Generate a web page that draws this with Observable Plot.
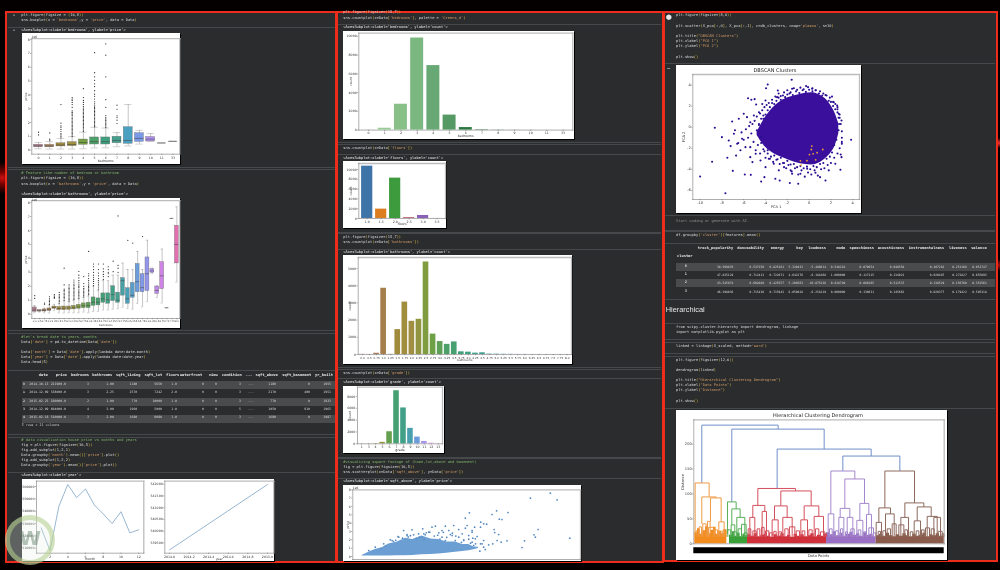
<!DOCTYPE html>
<html><head><meta charset="utf-8">
<script src="https://cdn.jsdelivr.net/npm/d3@7"></script>
<script src="https://cdn.jsdelivr.net/npm/@observablehq/plot@0.6"></script>
<style>
html,body{margin:0;padding:0;background:#000;width:1000px;height:570px;overflow:hidden}
#page{position:absolute;left:0;top:0;width:1000px;height:570px;overflow:hidden;filter:blur(.35px);
 background:radial-gradient(circle at 2px 178px,#d01010 0,#700 6px,transparent 16px),radial-gradient(circle at 999px 143px,#f33 0,transparent 5px),radial-gradient(circle at 999px 265px,#a11 0,transparent 6px),#040000}
.panel{position:absolute;background:#2a2c2e;border:2px solid #ee2c1c;box-sizing:border-box}
.t{position:absolute;white-space:pre;line-height:1}
.sep{position:absolute;height:1px;background:#46494c}
.band{position:absolute;height:8px;background:#4a4b4c}
</style></head><body><div id="page"></div>
<script>
// ---------- data: boxplot by bedrooms ----------
const bedCats=["0","1","2","3","4","5","6","7","8","9","10","11","33"];
const bedQ1=[.22,.22,.27,.29,.39,.41,.41,.50,.46,.60,.63,.52,.64];
const bedMed=[.30,.30,.37,.41,.55,.62,.62,.70,.70,.85,.80,.52,.64];
const bedQ3=[.39,.38,.50,.58,.77,.92,.92,.97,1.66,1.23,.95,.52,.64];
const bedLo=[.10,.08,.08,.08,.10,.16,.17,.25,.31,.44,.63,.52,.64];
const bedHi=[.55,.62,.85,.98,1.3,1.65,1.6,1.27,3.3,1.43,1.2,.52,.64];
const bedOut=[[1.1,1.3],[.72,.8,1.25],[.9,1.0,1.1,1.2,1.35,1.5,1.65,1.75,1.95,3.3],
[1.0,1.1,1.2,1.3,1.4,1.5,1.6,1.7,1.8,1.9,2.0,2.1,2.2,2.3,2.4,2.5,2.6,2.7,2.75,2.85,3.1,3.3,3.45,3.6,3.7,3.8],
[1.35,1.45,1.55,1.65,1.75,1.85,1.95,2.05,2.15,2.25,2.35,2.45,2.55,2.65,2.75,2.85,2.95,3.05,3.15,3.3,3.45,3.6,3.8,4.45],
[1.7,1.8,1.9,2.0,2.1,2.2,2.3,2.4,2.5,2.6,2.7,2.8,2.9,3.0,3.1,3.2,3.35,3.5,3.7,3.9,4.05,4.3,4.6,4.8,5.05,5.3,5.6,7.05],
[1.65,1.75,1.85,1.95,2.05,2.15,2.25,2.35,2.5,3.1,3.65,5.3,6.87,7.69],
[1.93,2.17,2.36,2.48,2.96,3.25],[],[],[],[],[]];
// ---------- data: boxplot by bathrooms ----------
const bathCats=["0.0","0.5","0.75","1.0","1.25","1.5","1.75","2.0","2.25","2.5","2.75","3.0","3.25","3.5","3.75","4.0","4.25","4.5","4.75","5.0","5.25","5.5","5.75","6.0","6.25","6.5","6.75","7.5","7.75","8.0"];
const bathQ1=[.17,.19,.19,.24,.39,.29,.29,.31,.34,.39,.43,.43,.6,.63,.82,.75,.94,.82,1.33,.75,1.18,1.57,1.57,1.66,2.96,1.45,1.8,.46,6.87,3.64];
const bathMed=[.29,.24,.26,.32,.47,.40,.42,.44,.47,.52,.60,.62,.85,.85,1.1,1.03,1.4,1.0,2.4,1.1,1.35,2.33,1.9,2.9,3.1,1.7,2.75,.46,6.87,5.0];
const bathQ3=[.48,.29,.34,.41,.55,.51,.55,.55,.60,.67,.77,.82,1.2,1.13,1.49,1.49,2.0,1.54,2.58,1.86,2.24,3.6,2.87,4.07,3.23,1.98,3.73,.46,6.87,6.34];
const bathLo=[.1,.15,.1,.08,.25,.1,.08,.1,.1,.1,.15,.1,.2,.2,.3,.3,.35,.4,.5,.4,.35,.77,.53,.9,2.9,1.2,.8,.46,6.87,2.3];
const bathHi=[.62,.3,.42,.65,.7,.75,.95,.9,1.0,1.1,1.2,1.3,2.0,1.7,2.4,2.4,2.8,2.8,3.66,3.2,3.2,4.5,3.2,5.3,3.3,2.05,4.67,.46,6.87,7.7];
const bathOut=[[1.13,1.33],[],[.72,.8],[.7,.8,.9,1.0,1.1,1.25],[1.15,1.2,1.3,1.4],[.8,.9,1,1.1,1.2,1.3,1.4,1.55],
[1.0,1.1,1.2,1.3,1.4,1.5,1.6,1.7,1.8,2.1,3.3],[.95,1.05,1.15,1.25,1.35,1.45,1.55,1.65,1.75,1.85,1.95,2.1],
[1.05,1.15,1.25,1.35,1.45,1.55,1.65,1.75,1.85,1.95,2.05,2.15,2.3,2.45],[1.15,1.25,1.35,1.45,1.55,1.65,1.75,1.9,2.0,2.1,2.25,2.4,2.6,2.8,3.06],
[1.25,1.35,1.45,1.55,1.65,1.75,1.85,2.0,2.2,2.7],[1.4,1.5,1.6,1.7,1.8,1.9,2.0,2.1,2.25,2.4,2.55,2.75,2.9,4.5],
[2.05,2.2,2.35,2.5,2.65,2.8,3.0,3.2,3.4,3.6],[1.8,1.95,2.1,2.25,2.4,2.55,2.75,2.95,3.2,3.6],[2.5,2.7,2.85,3.05,3.25,3.6],
[2.7,2.9,3.0,3.2,3.4],[3.05,3.8],[3.0,3.3,3.5,7.05],[],[5.3],[5.1],[],[5.57],[],[],[],[],[],[],[]];
// ---------- data: line plots ----------
const months=[1,2,3,4,5,6,7,8,9,10,11,12];
const monthPrice=[526500,508000,544000,561600,551000,558000,545000,537700,530000,539600,522400,525000];
const years=[2014,2015];
const yearPrice=[539200,541986];
// ---------- data: count plots ----------
const bedCount=[13,199,2760,9824,6882,1601,272,38,13,6,3,1,1];
const greens=["#a4d4a4","#98cc98","#88c088","#7ab880","#68a874","#559a64","#2e7a44","#2a7040","#256838","#206030","#1c582c","#185028","#144824"];
const floorCats=["1.0","1.5","2.0","2.5","3.0","3.5"];
const floorCount=[10680,1910,8241,161,613,8];
const floorColors=["#3f74a8","#dc7e20","#3d9a3d","#b8505a","#8a60b8","#8c564b"];
const bathCount=[10,4,72,3852,9,1446,3048,1930,2047,5380,1185,753,589,731,155,136,79,100,23,21,13,10,4,6,2,2,2,1,1,2];
const gradeCats=["1","3","4","5","6","7","8","9","10","11","12","13"];
const gradeCount=[1,3,29,242,2038,8981,6068,2615,1134,399,90,13];
// ---------- data: sqft_above vs price ----------
const denseSqft=[265,560,850,1150,1440,1800,2180,2500,2910,3300,3650,4000,4380,4700,4970,5200,5400];
const denseHigh=[.12,.5,.85,1.05,1.5,1.7,2.2,2.05,2.45,2.1,2.05,1.75,1.75,1.45,1.45,1.15,1.1];
const denseLow=[.05,.05,.05,.05,.05,.08,.1,.12,.2,.25,.3,.4,.5,.6,.7,.8,.95];
const aboveSqft=[7690,8570,8870,5000,4820,6000,6200,6700,6320,6440,5500,5760,6090,6120,6290,6220,6400,6660,7430,7320,7850,7910,8030,9430,5850,6030,5460,5700,5560,5630,5230,5120,4900,4310,3940,3500,3350,2940,2470,2100,1850,1510,2250,2760,3210,3790,4160,4530,4750,4970,5270,5340,1300,1650,2050,2400,2800,3100,3600,4000,4400,4650,5050,5150,1100,1750,2300,2650,3050,3450,3850,4250,3000,3700,2990,3250,3650,4090,4530,4820,5120,5490,5630,1880,1590,2250,2540,2910,3790,4240,4680,4970,5260,4380,4750,5120,5490,5630,5190,3940,1220,850,560];
const abovePrice=[7.0,7.6,6.8,5.24,4.6,5.04,5.48,5.28,4.48,4.44,4.12,3.88,3.24,2.88,2.64,1.92,1.72,1.88,1.88,1.08,2.6,2.32,3.24,2.2,1.4,1.52,.64,.84,1.52,1.92,3.52,2.92,3.72,3.72,3.64,3.64,3.52,3.32,3.2,3.12,2.4,2.0,2.64,2.72,2.92,3.12,2.64,2.32,2.0,2.08,1.52,2.4,1.25,1.8,2.2,2.5,2.3,2.85,2.55,2.3,2.45,1.7,1.6,2.2,.95,1.95,2.35,2.15,2.6,2.45,2.9,2.8,2.05,2.1,2.72,2.92,2.84,3.12,3.24,3.4,3.12,3.52,3.92,2.32,1.92,2.52,2.6,2.32,2.32,2.52,2.72,2.52,2.12,1.92,1.92,1.72,1.52,1.12,1.32,1.92,1.52,1.12,.72];
// ---------- data: DBSCAN ----------
const cloudX=[-4.77,-4.0,-3.09,-2.17,-1.25,-.34,.58,1.5,2.26,2.72];
const cloudTop=[-.47,.95,2.06,2.69,3.0,3.23,3.23,2.69,1.58,.32];
const cloudBottom=[-.79,-1.9,-2.6,-3.0,-3.35,-3.54,-3.54,-3.0,-2.06,-.63];
const pcaX=[-10,-7.68,-8.65,-8.9,-8,-7.5,-7,-5.9,-5.35,-4.4,-4.1,-3.1,-2.7,-1.77,-1,-1.56,.58,1.5,1,2.87,3.85,-1.6,-3.8,-3.95,-2.87,-.28,.28,-1.56,-5.6,-5.3,-5,-4.86,-4.3,-4,-2.94,2.1,2.57,-7.06,-6.45,-6,-5.7,-5.4,-5.07,-4.6,-6.9,-7.37,-7.2,-6.6,-6.15,-6.3,-5.84,-6.7,-5.4,-4.9,-5.2,-4.46,-4,-3.7,-3.24,-2.78,-2.3,-1.7,-.8,-.18,1.8,2.4,2.97,3,2.97,2.72,2.26,
-6.8,-6.5,-6.2,-6,-5.8,-5.6,-5.5,-5.4,-5.3,-5.2,-5.1,-5,-4.9,-4.8,-4.8,-4.7,-4.6,-4.5,-4.5,-4.4,-4.3,-4.2,-4.2,-4.1,-4,-3.9,-3.8,-3.7,
-3.4,-3.1,-2.8,-2.6,-2.3,-2,-1.8,-1.4,-1.1,-.8,-.5,-.1,.3,.6,1,1.3,1.6,1.9,2.2,2.4,2.6,2.8,
-3.6,-3.3,-3,-2.7,-2.4,-2.1,-1.9,-1.6,-1.3,-1,-.7,-.4,-.1,.2,.5,.8,1.1,1.4,1.7,2,2.3,2.6,2.8,3,
2.9,3,3,2.9,2.8,2.6,
-4.6,-4.4,-4.2,-4,-3.8,-3.6,-3.4,-3.2,-3,-2.8,-2.6,-2.4,-2.2,-2,-1.7,-1.5,-1.2,-.9,-.6,-.3,0,.3,.6,.9,1.2,1.5,1.8,2,2.2,2.4,2.6,2.7,2.75,2.7,2.5,2.3,2.1,1.9,1.6,1.3,1,.7,.4,.1,-.2,-.5,-.8,-1.1,-1.4,-1.7,-2,-2.3,-2.6,-2.9,-3.2,-3.5,-3.8,-4.1,-4.4];
const pcaY=[-4.68,-6.27,-.06,-3.29,-.95,-2.9,-4.15,-4.5,-4.53,-5.16,-4.75,-4.9,-5.06,-5.3,-5.38,-4.43,-4.33,-5.06,-4.75,-4.05,-1.2,4.5,4.05,3.7,3.48,3.9,3.64,3.64,2.75,2.6,2.66,2.15,2.2,2.53,2.85,2.9,2.06,.54,.8,1.27,.95,.47,1.1,1.42,-.63,-1.27,-1.8,-1.58,-1.1,-2.2,-1.9,-2.7,-2.85,-2.53,-3.32,-3.16,-3.8,-3,-3.48,-4.1,-3.8,-4.1,-4.43,-3.95,-4.1,-3.48,-2.85,-1.58,.63,1.27,2.37,
-.3,-1.5,-.5,-1.2,-.2,-1,.1,-1.9,-.6,.3,-1.4,.6,-2.2,-.3,1,-1.7,.2,-2.5,1.3,-.9,1.6,-2.1,.8,1.9,-2.9,2.1,-2.5,2.3,
2.6,2.9,3.2,2.95,3.3,3.5,3.2,3.7,3.55,3.75,3.6,3.8,3.7,3.5,3.4,3.2,3.0,2.8,2.4,2.2,1.7,1.2,
-3,-3.3,-3.1,-3.5,-3.4,-3.9,-3.6,-4.2,-3.9,-4.5,-4.1,-4.7,-4.3,-4.5,-4.1,-4.6,-4,-3.9,-3.6,-3.4,-2.9,-2.5,-2,-1,
.3,-.4,-1.4,-2.6,.9,1.9,
.3,.8,1.1,1.2,1.6,1.9,2.3,2.2,2.5,2.8,2.6,3,2.85,3.1,3.3,3.05,3.4,3.25,3.5,3.35,3.55,3.4,3.5,3.2,3,3.05,2.5,2.4,2,1.7,1.4,.9,.3,-.3,-1.2,-1.7,-2.4,-2.8,-3,-3.4,-3.5,-3.8,-3.7,-4,-3.75,-3.9,-3.7,-3.8,-3.5,-3.55,-3.2,-3.4,-2.9,-3.05,-2.7,-2.8,-2.2,-2.3,-1.5];
const noiseX=[.25,.2,.37,.03,.73,1.25,-.2,.6,-.8,-.75];
const noiseY=[-1.8,-2.12,-2.53,-2.6,-2.42,-2.12,-3.18,-3.1,-3.2,-3.6];
// ---------- data: dendrogram (left x, right x, height, left leg end, right leg end) ----------
const linkBlue=[[109,338,238,122,230],[199,476,230,84,190],[335,617,190,111,176],[532,703,176,146,146]];
const linkOrange=[[89,131,122,20,94],[109,152,94,40,92],[135,167,92,45,44],[92,98,26,14,14],[101,108,34,14,14],[112,122,40,14,14],[126,134,45,14,14],[129,145,33,14,14],[148,156,28,14,14],[160,176,44,14,14],[163,170,25,14,14],[173,182,28,14,14]];
const linkGreen=[[186,212,84,20,70],[199,224,70,38,53],[187,196,28,14,14],[197,208,38,14,14],[203,214,24,14,14],[214,238,53,14,14],[218,228,30,14,14],[228,242,39,14,14],[236,245,22,14,14]];
const linkRed=[[277,390,111,77,106],[346,437,106,76,76],[262,298,77,53,65],[327,365,76,48,53],[416,460,76,48,55],[248,256,30,14,14],[253,268,53,14,14],[262,272,26,14,14],[275,283,30,14,14],[290,303,65,14,14],[288,296,33,14,14],[300,310,26,14,14],[312,320,22,14,14],[320,338,48,14,14],[325,332,25,14,14],[340,348,24,14,14],[352,380,53,14,14],[358,368,30,14,14],[372,388,34,14,14],[392,402,26,14,14],[406,426,48,14,14],[410,418,26,14,14],[430,440,28,14,14],[446,474,55,14,14],[450,460,30,14,14],[465,478,24,14,14],[478,483,20,14,14]];
const linkPurple=[[496,568,146,60,130],[538,597,130,71,81],[524,553,71,53,53],[583,610,81,47,59],[488,505,60,14,14],[492,500,30,14,14],[510,518,26,14,14],[520,535,53,14,14],[525,532,30,14,14],[540,546,24,14,14],[545,562,53,14,14],[556,566,30,14,14],[574,592,47,14,14],[578,586,28,14,14],[594,602,24,14,14],[603,618,59,14,14],[610,624,32,14,14],[624,631,22,14,14]];
const linkBrown=[[658,747,146,72,82],[640,675,72,43,60],[718,775,82,53,74],[755,797,74,46,55],[632,648,43,14,14],[638,645,25,14,14],[652,660,26,14,14],[660,686,60,14,14],[665,675,30,14,14],[680,692,40,14,14],[700,715,38,14,14],[706,729,53,14,14],[718,726,28,14,14],[734,742,24,14,14],[746,765,46,14,14],[752,760,26,14,14],[768,776,28,14,14],[780,792,32,14,14],[785,815,55,14,14],[797,806,30,14,14],[805,825,53,14,14],[818,830,25,14,14],[830,835,20,14,14]];
const baseX=[88,96,104,112,120,128,136,144,152,160,168,176,184,192,200,208,216,224,232,240,246,256,266,276,286,296,306,316,326,336,346,356,366,376,386,396,406,416,426,436,446,456,466,476,483,493,503,513,523,533,543,553,563,573,583,593,603,613,623,632,642,652,662,672,682,692,702,712,722,732,742,752,762,772,782,792,802,812,822,836];
const baseH=[22,30,19,26,34,20,27,33,19,25,20,28,18,17,24,15,21,14,19,16,18,15,20,14,17,19,15,13,18,15,20,14,17,13,19,15,18,14,16,20,14,17,15,19,22,18,24,16,21,15,19,23,17,20,15,22,17,19,14,16,19,15,21,16,14,18,15,20,16,14,19,15,17,21,14,18,16,20,15,15];
const baseCluster=["o","o","o","o","o","o","o","o","o","o","o","o","o","g","g","g","g","g","g","g","r","r","r","r","r","r","r","r","r","r","r","r","r","r","r","r","r","r","r","r","r","r","r","r","p","p","p","p","p","p","p","p","p","p","p","p","p","p","p","b","b","b","b","b","b","b","b","b","b","b","b","b","b","b","b","b","b","b","b","b"];
// ---------- data: tables ----------
const headCols=["date","price","bedrooms","bathrooms","sqft_living","sqft_lot","floors","waterfront","view","condition","...","sqft_above","sqft_basement","yr_built"];
const headRows=[
["0","2014-10-13","221900.0","3","1.00","1180","5650","1.0","0","0","3","...","1180","0","1955"],
["1","2014-12-09","538000.0","3","2.25","2570","7242","2.0","0","0","3","...","2170","400","1951"],
["2","2015-02-25","180000.0","2","1.00","770","10000","1.0","0","0","3","...","770","0","1933"],
["3","2014-12-09","604000.0","4","3.00","1960","5000","1.0","0","0","5","...","1050","910","1965"],
["4","2015-02-18","510000.0","3","2.00","1680","8080","1.0","0","0","3","...","1680","0","1987"]];
const clusterCols=["track_popularity","danceability","energy","key","loudness","mode","speechiness","acousticness","instrumentalness","liveness","valence"];
const clusterRows=[
["0","30.599870","0.537250","0.825161","5.320433","-5.480614","0.548218","0.079654","0.048558","0.207282","0.251168","0.051747"],
["1","47.835129","0.712413","0.722071","4.642276","-6.181868","1.000000","0.117315","0.134022","0.020497","0.272827","0.655095"],
["2","43.545974","0.602889","0.425557","5.208563","-10.075236","0.628789","0.086265","0.512537","0.138529","0.156760","0.352561"],
["3","46.398036","0.715430","0.715943","6.059028","-6.251819","0.000000","0.130631","0.145663","0.020377","0.179422","0.595318"]];

// ---------- page helpers ----------
const page=document.getElementById("page");
function el(cls,css,html){const d=document.createElement("div");d.className=cls;Object.assign(d.style,css);if(html!==undefined)d.innerHTML=html;page.appendChild(d);return d;}
function txt(x,y,s,o={}){const a=o.anchor==="end"?"-100%":o.anchor==="middle"?"-50%":"0";
 const d=el("t",{left:x+"px",top:y+"px",fontSize:(o.size||3.7)+"px",color:o.color||"#d8d8d8",fontFamily:o.font||"'DejaVu Sans Mono'",fontWeight:o.weight||"normal",transform:`translate(${a},-50%)`+(o.rotate?` rotate(${o.rotate}deg)`:"")});d.textContent=s;return d;}
function esc(s){return s.replace(/&/g,"&amp;").replace(/</g,"&lt;").replace(/>/g,"&gt;");}
function code(x,y,s){let h;
 if(s.startsWith("#"))h=`<span style="color:#7fb069">${esc(s)}</span>`;
 else if(s.startsWith("<Axes"))h=`<span style="color:#e8e8e8">${esc(s)}</span>`;
 else h=s.split(/('[^']*'|"[^"]*")/).map(p=>/^['"]/.test(p)?`<span style="color:#d19a66">${esc(p)}</span>`:esc(p).replace(/([()\[\]])/g,'<span style="color:#e2c34a">$1</span>')).join("");
 el("t",{left:x+"px",top:y+"px",fontSize:"3.7px",color:"#d8d8d8",fontFamily:"'DejaVu Sans Mono'",transform:"translateY(-50%)"},h);}
function sep(x1,x2,y){el("sep",{left:x1+"px",top:y+"px",width:(x2-x1)+"px"});}
// red-framed panels
el("panel",{left:"5px",top:"11px",width:"332px",height:"552px"});
el("panel",{left:"335.5px",top:"11px",width:"328px",height:"552px"});
el("panel",{left:"663px",top:"11px",width:"334.5px",height:"551px"});

// ---------- chart helpers ----------
const stops=["#b0788a","#a87a50","#a08a3c","#a09040","#74a040","#4ca068","#3ea07e","#45a090","#4aa0c0","#7a9ae8","#b090f0","#d880e0","#e070b0"];
const ramp=d3.piecewise(d3.interpolateRgb,stops);
const pal=n=>d3.range(n).map(i=>ramp(i/(n-1)));
const plain=d=>String(d);
function fig(b,opts){return page.appendChild(Plot.plot({width:b.r-b.l,height:b.b-b.t,marginLeft:b.fl-b.l,marginRight:b.r-b.fr,marginTop:b.ft-b.t,marginBottom:b.b-b.fb,
 style:{position:"absolute",left:b.l+"px",top:b.t+"px",background:"#fff",fontFamily:"'DejaVu Sans'",fontSize:"3.4px",overflow:"visible",boxShadow:"1px 1px 0 #000",color:"#333"},...opts}));}
const frame=()=>[Plot.frame({anchor:"top",stroke:"#bcbcbc",strokeWidth:1.3}),Plot.frame({anchor:"right",stroke:"#bcbcbc",strokeWidth:1.3}),Plot.frame({anchor:"left",stroke:"#777",strokeWidth:.6}),Plot.frame({anchor:"bottom",stroke:"#777",strokeWidth:.6})];
const ax=(o={})=>Plot.axisX({tickSize:1.3,tickPadding:.8,fontSize:o.fs||3.2,labelAnchor:"center",labelArrow:"none",labelOffset:o.off||7,label:o.label??null,...(o.ticks?{ticks:o.ticks}:{}),...(o.fmt?{tickFormat:o.fmt}:{}),stroke:"#666",strokeWidth:.5});
const ay=(o={})=>Plot.axisY({tickSize:1.3,tickPadding:.8,fontSize:o.fs||3.2,labelAnchor:"center",labelArrow:"none",labelOffset:o.off||8,label:o.label??null,...(o.ticks?{ticks:o.ticks}:{}),...(o.fmt?{tickFormat:o.fmt}:{}),stroke:"#666",strokeWidth:.5});
function boxes(cats,q1,med,q3,lo,hi,out,colors,b,domainY,label,fs){
 const rows=cats.map((c,i)=>({c,q1:q1[i],med:med[i],q3:q3[i],lo:lo[i],hi:hi[i],col:colors[i]}));
 const pts=cats.flatMap((c,i)=>out[i].map(v=>({c,v})));
 return fig(b,{x:{type:"band",domain:cats,padding:.2,round:false},y:{domain:domainY},marks:[
  ...frame(),ax({label,fs,off:8}),ay({label:"price",ticks:[0,1,2,3,4,5,6,7,8],fmt:plain,off:7}),
  Plot.ruleX(rows,{x:"c",y1:"lo",y2:"hi",stroke:"#8a8a8a",strokeWidth:.5}),
  Plot.tickY(rows,{x:"c",y:"hi",stroke:"#8a8a8a",strokeWidth:.4,insetLeft:.8,insetRight:.8}),
  Plot.tickY(rows,{x:"c",y:"lo",stroke:"#8a8a8a",strokeWidth:.4,insetLeft:.8,insetRight:.8}),
  Plot.barY(rows,{x:"c",y1:"q1",y2:"q3",fill:"col",stroke:"#666",strokeWidth:.35}),
  Plot.tickY(rows,{x:"c",y:"med",stroke:"#444",strokeWidth:.55}),
  Plot.dot(pts,{x:"c",y:"v",r:.6,fill:"#222",stroke:"none"})]});
}
function counts(cats,vals,colors,b,domainY,ticks,label,fs){
 const rows=cats.map((c,i)=>({c,v:vals[i],col:colors[i]}));
 return fig(b,{x:{type:"band",domain:cats,padding:.2,round:false},y:{domain:domainY},marks:[
  ...frame(),ax({label,fs,off:7}),ay({label:"count",ticks,fmt:plain,off:9}),
  Plot.barY(rows,{x:"c",y:"v",fill:"col"})]});
}

// ---------- panel 1 ----------
[[21.3,15.7,"plt.figure(figsize = (16,8))"],[21.3,21,"sns.boxplot(x = 'bedrooms',y = 'price', data = Data)"],[21.3,30.7,"<AxesSubplot:xlabel='bedrooms', ylabel='price'>"],
[21.3,174.3,"# Feature Like number of bedroom or bathroom"],[21.3,179.3,"plt.figure(figsize = (16,8))"],[21.3,185,"sns.boxplot(x = 'bathrooms',y = 'price', data = Data)"],[21.3,195,"<AxesSubplot:xlabel='bathrooms', ylabel='price'>"],
[21.3,338,"#let's break date to years, months"],[21.3,342.7,"Data['date'] = pd.to_datetime(Data['date'])"],[21.3,353.3,"Data['month'] = Data['date'].apply(lambda date:date.month)"],[21.3,358.3,"Data['year'] = Data['date'].apply(lambda date:date.year)"],[21.3,363.3,"Data.head(5)"],
[21.3,441,"# data visualization house price vs months and years"],[21.3,446,"fig = plt.figure(figsize=(16,5))"],[21.3,451,"fig.add_subplot(1,2,1)"],[21.3,456,"Data.groupby('month').mean()['price'].plot()"],[21.3,461,"fig.add_subplot(1,2,2)"],[21.3,466,"Data.groupby('year').mean()['price'].plot()"],[21.3,476,"<AxesSubplot:xlabel='year'>"]
].forEach(a=>code(...a));
[26.5,167,169,330,333,370,434,437,472].forEach(y=>sep(8,335,y));
txt(13,15.7,"=",{size:3.5,color:"#bbb"});txt(13,30.7,"=",{size:3.5,color:"#bbb"});

boxes(bedCats,bedQ1,bedMed,bedQ3,bedLo,bedHi,bedOut,pal(13),{l:21.7,t:33.3,r:180,b:164.3,fl:31,ft:38.5,fr:179,fb:154},[-.29,8.06],"bedrooms",3.2);
txt(31.5,36.6,"1e6",{size:3,font:"'DejaVu Sans'",color:"#333"});
boxes(bathCats,bathQ1,bathMed,bathQ3,bathLo,bathHi,bathOut,pal(30),{l:21.7,t:198.3,r:180,b:328.3,fl:31,ft:200.5,fr:179,fb:318.3},[-.31,8.14],"bathrooms",2.5);
txt(31.5,199.8,"1e6",{size:3,font:"'DejaVu Sans'",color:"#333"});

// data head table
[381.3,398,414.6].forEach(y=>el("band",{left:"21.7px",top:y+"px",width:"313px"}));
const headX=[43.3,61.3,80,102.3,128.3,153.3,172.7,191,213.3,231.7,249,266.7,296.7,324];
headCols.forEach((c,i)=>txt(headX[i],376.3,c,{anchor:"middle",weight:"bold",color:"#e6e6e6"}));
const rowX=[24,29.3,66,88,110,137.3,162,177,204,217,241,251,276,310,331];
const rowAnchor=["middle","start","end","middle","middle","end","end","end","end","end","end","middle","end","end","end"];
headRows.forEach((r,j)=>r.forEach((v,i)=>txt(rowX[i],[385,393.3,401.7,410,418.3][j],v,{size:3.2,anchor:rowAnchor[i],weight:i===0?"bold":"normal",color:"#d8d8d8"})));
txt(21.7,426.3,"5 rows × 21 columns",{size:3.3,color:"#d0d0d0"});

// month & year lines
fig({l:21.7,t:479,r:153,b:561,fl:35.7,ft:480.7,fr:143,fb:552.7},{x:{domain:[.476,12.57]},y:{domain:[506000,564300]},marks:[
 ...frame(),ax({label:"month",ticks:[2,4,6,8,10,12],fmt:plain,off:6.5}),ay({ticks:[510000,520000,530000,540000,550000,560000],fmt:plain}),
 Plot.line(months.map((m,i)=>({m,v:monthPrice[i]})),{x:"m",y:"v",stroke:"#7ea3c8",strokeWidth:.8})]});
fig({l:153,t:479,r:274,b:561,fl:164.3,ft:480.7,fr:273.3,fb:552.7},{x:{domain:[2013.952,2015.065]},y:{domain:[539060,542128]},marks:[
 ...frame(),ax({label:"year",ticks:[2014,2014.2,2014.4,2014.6,2014.8,2015],fmt:d=>d.toFixed(1),off:6.5}),ay({ticks:[539500,540000,540500,541000,541500,542000],fmt:plain}),
 Plot.line(years.map((m,i)=>({m,v:yearPrice[i]})),{x:"m",y:"v",stroke:"#7ea3c8",strokeWidth:.8})]});

// ---------- panel 2 ----------
[[343.3,13.3,"plt.figure(figsize=(15,7))"],[343.3,18.7,"sns.countplot(x=Data['bedrooms'], palette = 'Greens_d')"],[343.3,28,"<AxesSubplot:xlabel='bedrooms', ylabel='count'>"],
[343.3,148.7,"sns.countplot(x=Data['floors'])"],[343.3,158.7,"<AxesSubplot:xlabel='floors', ylabel='count'>"],
[343.3,238,"plt.figure(figsize=(15,7))"],[343.3,242.7,"sns.countplot(x=Data['bathrooms'])"],[343.3,252.7,"<AxesSubplot:xlabel='bathrooms', ylabel='count'>"],
[343.3,373.7,"sns.countplot(x=Data['grade'])"],[343.3,383.3,"<AxesSubplot:xlabel='grade', ylabel='count'>"],
[343.3,462.7,"#visualizing square footage of (home,lot,above and basement)"],[343.3,467.7,"fig = plt.figure(figsize=(16,5))"],[343.3,473,"sns.scatterplot(x=Data['sqft_above'], y=Data['price'])"],[343.3,482,"<AxesSubplot:xlabel='sqft_above', ylabel='price'>"]
].forEach(a=>code(...a));
[24,141.7,144.3,154.3,231.7,233.3,248.7,366.7,369.3,378,456.7,458.3,478].forEach(y=>sep(338,661,y));

counts(bedCats,bedCount,greens,{l:343,t:30.7,r:574,b:139.3,fl:358.3,ft:32.3,fr:572.3,fb:129.3},[0,10350],[0,2000,4000,6000,8000,10000],"bedrooms",3.2);
counts(floorCats,floorCount,floorColors,{l:343,t:161.3,r:446,b:228,fl:358.3,ft:163.3,fr:445,fb:218.3},[0,11224],[0,2000,4000,6000,8000,10000],"floors",3.2);
counts(bathCats,bathCount,pal(30),{l:343,t:255.3,r:572,b:364,fl:357.7,ft:257.3,fr:571,fb:354.3},[0,5640],[0,1000,2000,3000,4000,5000],"bathrooms",2.8);
counts(gradeCats,gradeCount,pal(12),{l:343,t:386,r:444,b:453.3,fl:357,ft:386.7,fr:442,fb:443.3},[0,9580],[0,2000,4000,6000,8000],"grade",3.2);

fig({l:343,t:485,r:581,b:560.5,fl:352.3,ft:489.3,fr:580,fb:559},{x:{domain:[-143,9900],axis:null},y:{domain:[-.36,8.0]},marks:[
 ...frame(),ay({label:"price",ticks:[0,1,2,3,4,5,6,7,8],fmt:plain,off:6}),
 Plot.areaY(denseSqft.map((x,i)=>({x,a:denseLow[i],b:denseHigh[i]})),{x:"x",y1:"a",y2:"b",fill:"#6b9fd4"}),
 Plot.dot(aboveSqft.map((x,i)=>({x,y:abovePrice[i]})),{x:"x",y:"y",r:.85,fill:"#4a80bd",stroke:"#a8c4de",strokeWidth:.15})]});
txt(352.8,488,"1e6",{size:3,font:"'DejaVu Sans'",color:"#333"});

// ---------- panel 3 ----------
[[676,16.3,"plt.figure(figsize=(8,6))"],[676,26.7,"plt.scatter(X_pca[:,0], X_pca[:,1], c=db_clusters, cmap='plasma', s=10)"],[676,36.7,"plt.title(\"DBSCAN Clusters\")"],[676,42,"plt.xlabel(\"PCA 1\")"],[676,47.3,"plt.ylabel(\"PCA 2\")"],[676,57.7,"plt.show()"],
[676,236.3,"df.groupby('cluster')[features].mean()"],[676,328.3,"from scipy.cluster.hierarchy import dendrogram, linkage"],[676,333,"import matplotlib.pyplot as plt"],[676,347,"linked = linkage(X_scaled, method='ward')"],
[676,360.7,"plt.figure(figsize=(12,6))"],[676,371,"dendrogram(linked)"],[676,380.7,"plt.title(\"Hierarchical Clustering Dendrogram\")"],[676,386,"plt.xlabel(\"Data Points\")"],[676,391.3,"plt.ylabel(\"Distance\")"],[676,401.7,"plt.show()"]
].forEach(a=>code(...a));
[63.3,215,229.7,231,243.3,299,323.3,339,341.7,353.3,355.7,408.3].forEach(y=>sep(665,995,y));
txt(676,222.3,"Start coding or generate with AI.",{color:"#8d8f91"});
txt(668.7,17.3,"●",{anchor:"middle",size:7,color:"#e8e8e8",font:"'DejaVu Sans'"});
txt(668.7,67,"…",{anchor:"middle",size:5,color:"#e8e8e8"});
txt(665.7,310,"Hierarchical",{size:7.4,color:"#e6e6e6",font:"'Liberation Sans'"});

fig({l:676,t:65,r:861,b:213,fl:692.3,ft:74,fr:859,fb:199},{x:{domain:[-10.67,4.62]},y:{domain:[-6.87,5]},marks:[
 ...frame(),ax({label:"PCA 1",ticks:[-10,-8,-6,-4,-2,0,2,4],fmt:plain,fs:3.6,off:8}),ay({label:"PCA 2",ticks:[-6,-4,-2,0,2,4],fmt:plain,fs:3.6,off:10}),
 Plot.areaY(cloudX.map((x,i)=>({x,a:cloudBottom[i],b:cloudTop[i]})),{x:"x",y1:"a",y2:"b",fill:"#3a0f9c",curve:"catmull-rom"}),
 Plot.dot(pcaX.map((x,i)=>({x,y:pcaY[i]})),{x:"x",y:"y",r:1.05,fill:"#2a0c92",stroke:"none"}),
 Plot.dot(noiseX.map((x,i)=>({x,y:noiseY[i]})),{x:"x",y:"y",r:.9,fill:"#eea030",stroke:"none"})]});
txt(775,70,"DBSCAN Clusters",{anchor:"middle",size:5,font:"'DejaVu Sans'",color:"#222"});

// cluster means table
[262.7,279.3].forEach(y=>el("band",{left:"676px",top:y+"px",width:"319px"}));
const clusterX=[733.3,764,784,803,826,845.3,874,904.3,944.3,966.7,986.7];
clusterCols.forEach((c,i)=>txt(clusterX[i],249.3,c,{anchor:"end",weight:"bold",color:"#e6e6e6"}));
txt(677,257.3,"cluster",{weight:"bold",color:"#e6e6e6"});
clusterRows.forEach((r,j)=>r.forEach((v,i)=>txt(i===0?685.7:clusterX[i-1],[266.7,275,283.3,291.7][j],v,{size:i===0?3.5:3,anchor:i===0?"middle":"end",weight:i===0?"bold":"normal"})));

// dendrogram
const dColors={o:"#f09a44",g:"#58b058",r:"#d4505c",p:"#a488cc",b:"#8e6a5e",k:"#6f8fc8"};
const fillColors={o:"#f28c1e",g:"#3aa03a",r:"#d0303a",p:"#9a70c4",b:"#8a5a4a"};
const dz=[["k",linkBlue],["o",linkOrange],["g",linkGreen],["r",linkRed],["p",linkPurple],["b",linkBrown]];
const segs=dz.flatMap(([k,list])=>list.flatMap(([xl,xr,h,yl,yr])=>[{x1:xl,y1:yl,x2:xl,y2:h,k},{x1:xl,y1:h,x2:xr,y2:h,k},{x1:xr,y1:h,x2:xr,y2:yr,k}]));
const baseRows=baseX.map((x,i)=>({x,h:baseH[i],k:baseCluster[i]}));
const clusterEnds={o:[88,184],g:[184,246],r:[246,483],p:[483,632],b:[632,836]};
fig({l:676,t:410,r:947,b:560,fl:693.3,ft:419.3,fr:943.7,fb:543.3},{x:{domain:[85,836],axis:null},y:{domain:[0,248.7]},marks:[
 ...frame(),ay({label:"Distance",ticks:[0,50,100,150,200],fmt:plain,fs:3.6,off:12}),
 Plot.ruleY([-12.7],{x1:85,x2:836,stroke:"#000",strokeWidth:6}),
 ...Object.keys(clusterEnds).map(k=>{const [a,b]=clusterEnds[k];const rows=baseRows.filter(r=>r.k===k);
   return Plot.areaY(rows.concat([{x:b,h:rows[rows.length-1].h,k}]),{x:"x",y:"h",fill:fillColors[k],curve:"step-after"});}),
 Plot.link(segs,{x1:"x1",y1:"y1",x2:"x2",y2:"y2",stroke:d=>dColors[d.k],strokeWidth:1})]});
txt(818,415,"Hierarchical Clustering Dendrogram",{anchor:"middle",size:5,font:"'DejaVu Sans'",color:"#222"});
txt(818.5,555.5,"Data Points",{anchor:"middle",size:3.8,font:"'DejaVu Sans'",color:"#333"});

// watermark
el("t",{left:"5px",top:"515px",width:"50px",height:"50px",borderRadius:"50%",border:"5px solid rgba(178,205,140,.55)",background:"rgba(230,240,225,.28)",boxSizing:"border-box"});
txt(30,538,"W",{anchor:"middle",size:20,weight:"bold",color:"rgba(95,125,105,.45)",font:"'DejaVu Sans'"});
</script></body></html>
